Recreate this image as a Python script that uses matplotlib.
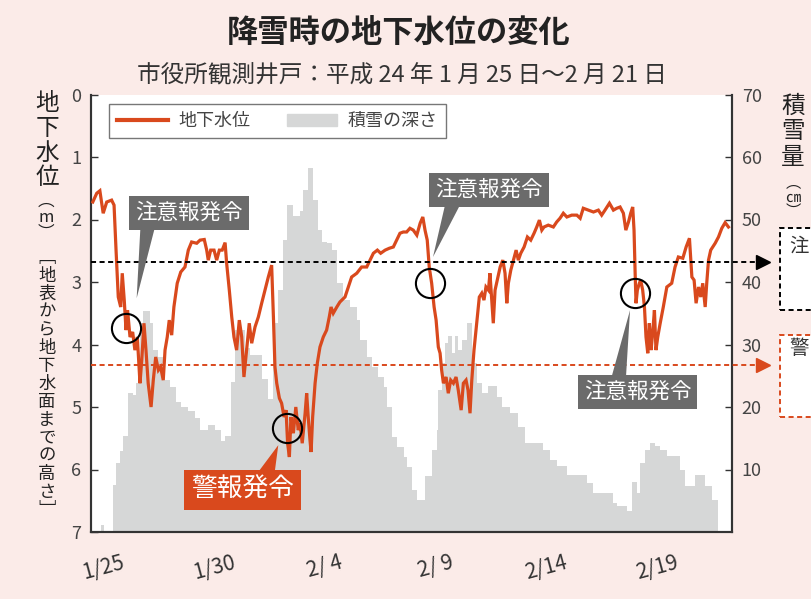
import matplotlib
matplotlib.use('Agg')
import matplotlib.pyplot as plt
from matplotlib.lines import Line2D
from matplotlib.patches import Patch, Rectangle

plt.rcParams['font.family'] = ['Noto Sans CJK JP', 'DejaVu Sans']

# time axis: days counted from 1/25 0:00
level_day = [-0.46, -0.28, -0.14, 0.01, 0.17, 0.39, 0.50, 0.59, 0.69, 0.80, 0.87, 0.96, 1.04, 1.11,
             1.22, 1.34, 1.44, 1.55, 1.67, 1.75, 1.85, 1.94, 2.04, 2.17, 2.27, 2.38, 2.50, 2.60,
             2.72, 2.80, 2.90, 2.99, 3.10, 3.20, 3.35, 3.51, 3.70, 3.85, 4.00, 4.23, 4.38, 4.57,
             4.68, 4.75, 4.86, 5.01, 5.13, 5.25, 5.38, 5.51, 5.58, 5.70, 5.81, 5.91, 6.03, 6.15,
             6.26, 6.36, 6.48, 6.60, 6.71, 6.86, 7.01, 7.16, 7.31, 7.46, 7.61, 7.69, 7.76, 7.84,
             7.96, 8.06, 8.17, 8.26, 8.33, 8.41, 8.48, 8.59, 8.70, 8.81, 8.89, 8.99, 9.12, 9.19,
             9.26, 9.34, 9.39, 9.46, 9.57, 9.67, 9.79, 9.94, 10.09, 10.21, 10.29, 10.39, 10.55,
             10.69, 10.92, 11.07, 11.22, 11.45, 11.67, 11.90, 12.05, 12.20, 12.38, 12.53, 12.73,
             12.92, 13.10, 13.25, 13.40, 13.55, 13.70, 13.85, 14.00, 14.16, 14.31, 14.43, 14.53,
             14.63, 14.72, 14.83, 14.94, 15.03, 15.13, 15.21, 15.28, 15.36, 15.48, 15.58, 15.69,
             15.81, 15.93, 16.03, 16.16, 16.26, 16.38, 16.47, 16.56, 16.64, 16.74, 16.86, 16.98,
             17.09, 17.19, 17.28, 17.39, 17.46, 17.54, 17.61, 17.69, 17.79, 17.92, 18.04, 18.14,
             18.22, 18.29, 18.40, 18.52, 18.64, 18.74, 18.85, 19.00, 19.15, 19.30, 19.45, 19.57,
             19.69, 19.80, 19.90, 20.09, 20.32, 20.47, 20.62, 20.77, 20.93, 21.15, 21.38, 21.53,
             21.67, 21.90, 22.13, 22.35, 22.50, 22.65, 22.85, 23.03, 23.18, 23.33, 23.48, 23.59,
             23.71, 23.81, 23.90, 23.96, 24.01, 24.05, 24.11, 24.20, 24.26, 24.35, 24.43, 24.50,
             24.58, 24.65, 24.73, 24.81, 24.88, 24.95, 25.03, 25.14, 25.28, 25.44, 25.66, 25.81,
             25.96, 26.16, 26.31, 26.46, 26.57, 26.67, 26.76, 26.87, 26.97, 27.06, 27.17, 27.24,
             27.32, 27.42, 27.62, 27.77, 27.92, 28.07, 28.22]
level_m = [1.72, 1.58, 1.54, 1.90, 1.72, 1.69, 1.77, 2.49, 3.24, 3.40, 2.86, 3.29, 3.77, 3.45,
           3.88, 3.80, 4.09, 3.88, 4.62, 4.25, 3.66, 4.09, 4.62, 5.00, 4.57, 4.20, 4.41, 4.36,
           4.57, 4.09, 3.88, 3.61, 3.85, 3.40, 3.02, 2.84, 2.76, 2.49, 2.36, 2.38, 2.33, 2.32,
           2.49, 2.65, 2.49, 2.49, 2.65, 2.49, 2.49, 2.37, 2.70, 3.13, 3.56, 3.88, 4.09, 3.61,
           3.88, 4.52, 4.09, 3.66, 3.98, 3.72, 3.56, 3.34, 3.13, 2.92, 2.73, 3.56, 4.36, 4.62,
           4.86, 4.94, 5.16, 5.05, 5.58, 5.80, 5.16, 5.42, 5.00, 5.37, 5.26, 5.58, 5.10, 4.78,
           5.16, 5.53, 5.72, 5.16, 4.62, 4.30, 4.04, 3.88, 3.77, 3.56, 3.40, 3.50, 3.40,
           3.32, 3.24, 3.08, 2.92, 2.86, 2.76, 2.76, 2.65, 2.54, 2.49, 2.54, 2.49,
           2.46, 2.44, 2.33, 2.22, 2.20, 2.20, 2.14, 2.17, 2.25, 2.06, 1.96, 2.17,
           2.33, 2.76, 3.02, 3.40, 3.61, 4.04, 4.14, 4.41, 4.62, 4.52, 4.78, 4.57,
           4.62, 4.52, 4.73, 5.05, 4.62, 4.57, 4.73, 5.10, 4.57, 4.09, 3.66, 3.24,
           3.18, 3.29, 3.08, 3.13, 2.86, 3.29, 3.66, 3.13, 2.97, 2.76, 2.65, 2.86,
           3.34, 3.02, 2.81, 2.65, 2.49, 2.65, 2.54, 2.44, 2.28, 2.33, 2.22, 2.12,
           2.01, 2.17, 2.12, 2.09, 2.12, 2.04, 1.98, 1.90, 1.96, 1.93, 1.93, 1.98,
           1.82, 1.85, 1.88, 1.85, 1.93, 1.85, 1.74, 1.85, 1.82, 1.80, 1.90, 2.17,
           2.04, 1.90, 1.80, 2.17, 2.86, 3.34, 3.13, 3.02, 2.97, 3.13, 3.40, 3.88,
           4.14, 3.66, 4.09, 3.77, 3.45, 4.09, 3.88, 3.66, 3.40, 3.08, 3.02, 2.76,
           2.60, 2.62, 2.44, 2.30, 2.92, 2.97, 3.34, 3.08, 3.24, 3.02, 3.40, 3.02,
           2.65, 2.49, 2.38, 2.28, 2.14, 2.05, 2.12]

# snow depth: step start (day) and depth (cm); last step ends at snow_end
snow_day = [-0.11, 0.05, 0.45, 0.60, 0.75, 0.90, 1.13, 1.35, 1.50, 1.65, 1.80, 2.11, 2.26, 2.48,
            2.71, 3.01, 3.31, 3.53, 3.84, 4.14, 4.36, 4.74, 5.04, 5.34, 5.49, 5.79, 5.94, 6.39,
            6.63, 7.16, 7.46, 7.69, 7.91, 8.14, 8.29, 8.59, 8.89, 9.04, 9.27, 9.49, 9.72, 9.87,
            10.09, 10.32, 10.54, 10.84, 11.15, 11.45, 11.60, 11.90, 12.13, 12.43, 12.66, 12.81,
            13.04, 13.26, 13.56, 13.71, 13.94, 14.15, 14.53, 14.83, 15.06, 15.13, 15.28, 15.43,
            15.58, 15.73, 15.89, 16.04, 16.19, 16.41, 16.64, 16.86, 17.09, 17.39, 17.76, 17.99,
            18.37, 18.74, 19.04, 19.87, 20.17, 20.47, 20.92, 21.83, 22.13, 23.03, 23.18, 23.63,
            23.86, 24.08, 24.23, 24.46, 24.68, 24.91, 25.14, 25.44, 26.04, 26.27, 26.72, 27.17,
            27.47]
snow_cm = [1.1, 0, 7.5, 11.0, 12.9, 15.3, 22.2, 22.0, 23.8, 33.4, 35.3, 33.4, 29.1, 28.0,
           24.3, 23.2, 20.8, 20.0, 19.3, 18.2, 16.3, 17.1, 16.3, 14.5, 15.3, 24.0, 32.3, 29.4,
           28.3, 24.5, 21.3, 33.4, 38.7, 46.7, 52.3, 50.5, 51.3, 54.7, 58.2, 53.1, 48.3, 46.4,
           46.2, 45.1, 39.8, 37.1, 36.0, 33.9, 30.7, 28.0, 26.4, 24.8, 23.2, 20.0,
           15.2, 13.6, 12.0, 10.4, 6.7, 5.1, 8.9, 13.1, 16.3, 22.7, 27.0, 30.2,
           31.3, 28.6, 31.3, 29.1, 30.7, 33.4, 27.0, 23.8, 22.2, 23.3, 21.6, 20.0,
           19.0, 16.8, 14.2, 13.1, 11.5, 10.5, 9.1, 7.8, 6.2, 4.6, 4.1, 3.3,
           8.0, 6.2, 11.0, 13.1, 14.2, 13.7, 13.1, 12.1, 10.0, 7.3, 9.1, 7.3,
           5.1]
snow_end = 27.77

tick_days = [0, 5, 10, 15, 20, 25]
tick_labels = ['1/25', '1/30', '2/ 4', '2/ 9', '2/14', '2/19']

caution_m = 2.68
warning_m = 4.32

# alert events marked with circles, and their callouts
event_day = [1.04, 8.29, 14.76, 24.01]
event_m = [3.74, 5.34, 3.01, 3.18]
callout_text = ['注意報発令', '警報発令', '注意報発令', '注意報発令']
callout_tip = [(1.52, 3.26), (7.91, 5.61), (14.89, 2.60), (23.78, 3.45)]
callout_box = [(3.88, 1.89), (6.30, 6.33), (17.42, 1.53), (24.12, 4.76)]
callout_rel = [(0.12, 0.0), (0.72, 1.0), (0.17, 0.0), (0.32, 1.0)]

bg = '#fbebe8'
orange = '#d9491d'
darkgray = '#6b6b6b'
snowgray = '#d6d7d7'
W, H = 811, 599

fig = plt.figure(figsize=(W / 100, H / 100), dpi=100, facecolor=bg)
ax = fig.add_axes([91 / W, 1 - 532 / H, 641 / W, 437.5 / H])
ax2 = ax.twinx()
ax.set_zorder(ax2.get_zorder() + 1)
ax.patch.set_visible(False)
ax2.patch.set_visible(True)
ax2.patch.set_facecolor('white')

# snow bars on the right axis
widths = [b - a for a, b in zip(snow_day, snow_day[1:] + [snow_end])]
ax2.bar(snow_day, snow_cm, width=widths, align='edge', color=snowgray, linewidth=0)
ax2.set_ylim(0, 70)
ax2.set_yticks(range(10, 71, 10))

# groundwater level on the left axis
ax.plot(level_day, level_m, color=orange, lw=2.3, solid_joinstyle='miter', zorder=3)
ax.set_ylim(7, 0)
ax.set_yticks(range(8))
ax.set_xlim(-0.54, 28.38)
ax.set_xticks(tick_days, tick_labels, rotation=15)

for a in (ax, ax2):
    a.spines['top'].set_visible(False)
    for s in a.spines.values():
        s.set_color('#333333')
        s.set_linewidth(1.5)
ax.tick_params(axis='y', direction='in', length=5, width=1, pad=7, labelsize=13,
               labelcolor='#444444', color='#333333')
ax2.tick_params(axis='y', direction='in', length=5, width=1, pad=7, labelsize=13,
                labelcolor='#444444', color='#333333')
ax.tick_params(axis='x', length=0, pad=14, labelsize=15, labelcolor='#333333')

# threshold lines with arrows to the side boxes
yt = ax.get_yaxis_transform()
for lvl, col in [(caution_m, 'black'), (warning_m, orange)]:
    ax.plot([0, 1.036], [lvl, lvl], transform=yt, color=col, lw=1.4,
            ls=(0, (2.6, 1.8)), clip_on=False, zorder=4)
    ax.plot([1.048], [lvl], transform=yt, marker='>', ms=10, color=col,
            clip_on=False, zorder=4)

# event circles
ax.plot(event_day, event_m, 'o', ms=21, mfc='none', mec='black', mew=1.5, zorder=5)

# callouts
for txt, tip, box, rel in zip(callout_text, callout_tip, callout_box, callout_rel):
    col = orange if txt == '警報発令' else darkgray
    fs = 18.5 if txt == '警報発令' else 15.5
    ax.annotate(txt, xy=tip, xytext=box, ha='center', va='center', fontsize=fs,
                color='white', zorder=6,
                bbox=dict(boxstyle='square,pad=0.28', fc=col, ec='none'),
                arrowprops=dict(arrowstyle='wedge,tail_width=0.7,shrink_factor=0.5',
                                fc=col, ec='none', relpos=rel, patchA=None,
                                shrinkA=0, shrinkB=0))

# legend
handles = [Line2D([], [], color=orange, lw=3), Patch(color=snowgray)]
leg = ax.legend(handles, ['地下水位', '積雪の深さ'], ncol=2, loc='upper left',
                bbox_to_anchor=(0.028, 0.978), borderaxespad=0, fancybox=False,
                edgecolor='#555555', fontsize=13, handlelength=2.8, handletextpad=0.6,
                columnspacing=2.0, borderpad=0.45, labelcolor='#444444')
leg.get_frame().set_linewidth(1.0)
leg.set_zorder(7)

# titles
fig.text(0.492, 1 - 33 / H, '降雪時の地下水位の変化', ha='center', va='center',
         fontsize=22.5, fontweight='bold', color='#222222')
fig.text(0.496, 1 - 76 / H, '市役所観測井戸：平成 24 年 1 月 25 日～2 月 21 日',
         ha='center', va='center', fontsize=17, color='#333333')


def vtext(chars, x, y0, step, size):
    for i, ch in enumerate(chars):
        fig.text(x / W, 1 - (y0 + i * step) / H, ch, ha='center', va='center',
                 fontsize=size, color='#222222')


vtext('地下水位', 47, 104, 24.5, 17)
vtext('︵m︶', 46, 201, 16, 12)
vtext('﹇地表から地下水面までの高さ﹈', 47, 258, 18, 12.5)
vtext('積雪量', 793, 106, 25.5, 17)
fig.text(793 / W, 1 - 197 / H, '︵\n㎝\n︶', ha='center', va='center', fontsize=11,
         linespacing=0.8, color='#222222')

# side boxes (cut by the figure edge; only their first character shows)
for top, bottom, col, txt, ty in [(228, 310, 'black', '注', 246), (335, 417, orange, '警', 349)]:
    fig.patches.append(Rectangle((780 / W, 1 - bottom / H), 0.1, (bottom - top) / H,
                                 transform=fig.transFigure, fc='white', ec=col,
                                 ls=(0, (2.6, 1.8)), lw=1.4))
    fig.text(789 / W, 1 - ty / H, txt, ha='left', va='center', fontsize=14, color='#333333')

fig.savefig('out.png', dpi=100, facecolor=bg)
